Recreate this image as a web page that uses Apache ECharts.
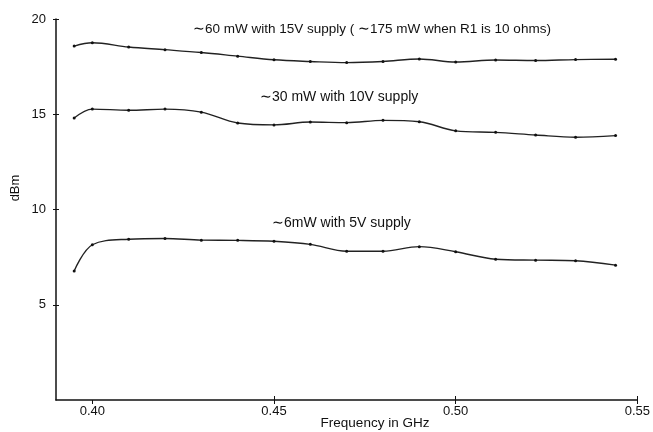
<!DOCTYPE html>
<html>
<head>
<meta charset="utf-8">
<script src="https://cdn.jsdelivr.net/npm/echarts@6.0.0/dist/echarts.min.js"></script>
<style>
  html, body { margin: 0; padding: 0; background: #fff; }
  #chart { width: 653px; height: 432px; }
</style>
</head>
<body>
<div id="chart"></div>
<script>
// frequency points (GHz), shared by the three curves
var freqs = [0.395, 0.40, 0.41, 0.42, 0.43, 0.44, 0.45, 0.46, 0.47, 0.48, 0.49, 0.50, 0.511, 0.522, 0.533, 0.544];

// output power in dBm
var power15V = [18.58, 18.75, 18.53, 18.39, 18.24, 18.05, 17.86, 17.77, 17.71, 17.77, 17.90, 17.74, 17.85, 17.82, 17.87, 17.89];
var power10V = [14.80, 15.27, 15.21, 15.27, 15.11, 14.54, 14.44, 14.59, 14.56, 14.68, 14.61, 14.13, 14.05, 13.91, 13.79, 13.88];
var power5V  = [6.77, 8.15, 8.44, 8.48, 8.39, 8.38, 8.33, 8.17, 7.81, 7.81, 8.05, 7.78, 7.39, 7.34, 7.31, 7.08];

var xTicks = [0.40, 0.45, 0.50, 0.55];
var yTicks = [5, 10, 15, 20];

var seriesNames = [
    '\u223c60 mW with 15V supply ( \u223c175 mW when R1 is 10 ohms)',
    '\u223c30 mW with 10V supply',
    '\u223c6mW with 5V supply'
];

function pairs(vals) {
    return freqs.map(function (f, i) { return [f, vals[i]]; });
}

var font = '"Liberation Sans", Arial, sans-serif';
var ink = '#111';

function curve(name, vals) {
    return {
        name: name,
        type: 'line',
        xAxisIndex: 0,
        yAxisIndex: 0,
        smooth: 0.35,
        symbol: 'circle',
        symbolSize: 3,
        itemStyle: { color: ink },
        lineStyle: { color: '#222', width: 1.4 },
        data: pairs(vals)
    };
}

var myChart = echarts.init(document.getElementById('chart'));
myChart.setOption({
    animation: false,
    backgroundColor: '#fff',
    grid: { left: 56, right: 11, top: 19, bottom: 32 },
    xAxis: [
        {
            type: 'value',
            min: 0.39,
            max: 0.55,
            axisLine: { show: true, lineStyle: { color: ink, width: 1.5 } },
            axisTick: { show: true, length: 4, customValues: xTicks, lineStyle: { color: ink } },
            axisLabel: {
                customValues: xTicks,
                margin: 5,
                color: ink,
                fontFamily: font,
                fontSize: 13,
                formatter: function (v) { return v.toFixed(2); }
            },
            splitLine: { show: false }
        },
        {
            type: 'value',
            position: 'bottom',
            min: 0.39,
            max: 0.55,
            axisLine: { show: false },
            axisTick: { show: true, inside: true, length: 4, customValues: xTicks.slice(1), lineStyle: { color: ink } },
            axisLabel: { show: false },
            splitLine: { show: false }
        }
    ],
    yAxis: [
        {
            type: 'value',
            min: 0,
            max: 20,
            axisLine: { show: true, lineStyle: { color: ink, width: 1.5 } },
            axisTick: { show: true, length: 3, customValues: yTicks, lineStyle: { color: ink } },
            axisLabel: {
                customValues: yTicks,
                margin: 10,
                color: ink,
                fontFamily: font,
                fontSize: 13
            },
            splitLine: { show: false }
        },
        {
            type: 'value',
            position: 'left',
            min: 0,
            max: 20,
            axisLine: { show: false },
            axisTick: { show: true, inside: true, length: 3, customValues: yTicks, lineStyle: { color: ink } },
            axisLabel: { show: false },
            splitLine: { show: false }
        }
    ],
    graphic: [
        {
            type: 'text', x: 15, y: 188, rotation: Math.PI / 2,
            style: { text: 'dBm', fill: ink, font: '13px ' + font, align: 'center', verticalAlign: 'middle' }
        },
        {
            type: 'text', x: 375, y: 423,
            style: { text: 'Frequency in GHz', fill: ink, font: '13.5px ' + font, align: 'center', verticalAlign: 'middle' }
        },
        {
            type: 'text', x: 193, y: 29,
            style: { text: seriesNames[0], fill: ink, font: '13.5px ' + font, verticalAlign: 'middle' }
        },
        {
            type: 'text', x: 260, y: 97,
            style: { text: seriesNames[1], fill: ink, font: '14px ' + font, verticalAlign: 'middle' }
        },
        {
            type: 'text', x: 272, y: 223,
            style: { text: seriesNames[2], fill: ink, font: '14px ' + font, verticalAlign: 'middle' }
        }
    ],
    series: [
        curve(seriesNames[0], power15V),
        curve(seriesNames[1], power10V),
        curve(seriesNames[2], power5V)
    ]
});
</script>
</body>
</html>
